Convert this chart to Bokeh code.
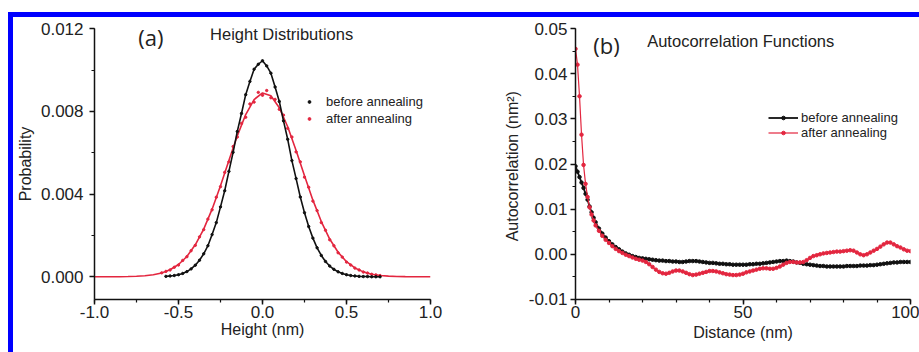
from bokeh.plotting import figure
from bokeh.layouts import row
from bokeh.models import (Label, Legend, LegendItem, SingleIntervalTicker,
                          NumeralTickFormatter)
from bokeh.embed import file_html
from bokeh.resources import INLINE

# ---------------- data: (a) height distributions ----------------
before_x = [-0.575, -0.55, -0.525, -0.5, -0.475, -0.45, -0.425, -0.4, -0.375, -0.35,
            -0.325, -0.3, -0.275, -0.25, -0.225, -0.2, -0.175, -0.15, -0.125, -0.1,
            -0.075, -0.05, -0.025, 0.0, 0.025, 0.05, 0.075, 0.1, 0.125, 0.15,
            0.175, 0.2, 0.225, 0.25, 0.275, 0.3, 0.325, 0.35, 0.375, 0.4,
            0.425, 0.45, 0.475, 0.5, 0.525, 0.55, 0.575, 0.6, 0.625, 0.65, 0.675, 0.7]
before_p = [0.00002, 0.00004, 0.00006, 0.00010, 0.00016, 0.00025, 0.00038, 0.00056, 0.00080, 0.00111,
            0.00150, 0.00204, 0.00262, 0.00338, 0.00416, 0.00510, 0.00602, 0.00703, 0.00790, 0.00881,
            0.00945, 0.01004, 0.01028, 0.01045, 0.01020, 0.00985, 0.00918, 0.00848, 0.00754, 0.00665,
            0.00562, 0.00475, 0.00386, 0.00310, 0.00243, 0.00187, 0.00140, 0.00103, 0.00074, 0.00052,
            0.00036, 0.00024, 0.00016, 0.00010, 0.00006, 0.00004, 0.00002, 0.00001, 0.00001, 0.0, 0.0, 0.0]

after_x = [-0.6, -0.575, -0.55, -0.525, -0.5, -0.475, -0.45, -0.425, -0.4, -0.375,
           -0.35, -0.325, -0.3, -0.275, -0.25, -0.225, -0.2, -0.175, -0.15, -0.125,
           -0.1, -0.075, -0.05, -0.025, 0.0, 0.025, 0.05, 0.075, 0.1, 0.125,
           0.15, 0.175, 0.2, 0.225, 0.25, 0.275, 0.3, 0.325, 0.35, 0.375,
           0.4, 0.425, 0.45, 0.475, 0.5, 0.525, 0.55, 0.575, 0.6, 0.625, 0.65, 0.675, 0.7]
after_p = [0.00019, 0.00026, 0.00033, 0.00046, 0.00057, 0.00079, 0.00097, 0.00126, 0.00152, 0.00193,
           0.00228, 0.00279, 0.00324, 0.00385, 0.00436, 0.00505, 0.00556, 0.00630, 0.00676, 0.00742,
           0.00772, 0.00836, 0.00845, 0.00892, 0.00878, 0.00901, 0.00866, 0.00858, 0.00810, 0.00782,
           0.00718, 0.00676, 0.00604, 0.00556, 0.00482, 0.00433, 0.00366, 0.00320, 0.00262, 0.00225,
           0.00179, 0.00150, 0.00116, 0.00095, 0.00071, 0.00057, 0.00042, 0.00033, 0.00023, 0.00018,
           0.00012, 0.00009, 0.00006]

fit_x = [-1.0, -0.95, -0.9, -0.85, -0.8, -0.75, -0.7, -0.65, -0.6, -0.55,
         -0.5, -0.45, -0.4, -0.35, -0.3, -0.25, -0.2, -0.15, -0.1, -0.05,
         0.0, 0.05, 0.1, 0.15, 0.2, 0.25, 0.3, 0.35, 0.4, 0.45,
         0.5, 0.55, 0.6, 0.65, 0.7, 0.75, 0.8, 0.85, 0.9, 0.95, 1.0]
fit_after = [0.0, 0.0, 0.0, 0.000004, 0.00001, 0.000022, 0.000047, 0.000095, 0.000185, 0.000339,
             0.000592, 0.000982, 0.001545, 0.002307, 0.003271, 0.004401, 0.005622, 0.006817, 0.007846, 0.008573,
             0.008891, 0.008753, 0.00818, 0.007256, 0.006111, 0.004884, 0.003706, 0.00267, 0.001825, 0.001185,
             0.00073, 0.000427, 0.000237, 0.000125, 0.000063, 0.00003, 0.000013, 0.000006, 0.0, 0.0, 0.0]

# ---------------- data: (b) autocorrelation functions ----------------
dist = [0, 0.6, 1.2, 1.8, 2.4, 3.0, 3.6, 4.2, 4.8, 5.4, 6.0,
        7, 8, 9, 10, 11, 12, 13, 14, 15, 16, 17, 18, 19, 20,
        21, 22, 23, 24, 25, 26, 27, 28, 29, 30, 31, 32, 33, 34, 35,
        36, 37, 38, 39, 40, 41, 42, 43, 44, 45, 46, 47, 48, 49, 50,
        51, 52, 53, 54, 55, 56, 57, 58, 59, 60, 61, 62, 63, 64, 65,
        66, 67, 68, 69, 70, 71, 72, 73, 74, 75, 76, 77, 78, 79, 80,
        81, 82, 83, 84, 85, 86, 87, 88, 89, 90, 91, 92, 93, 94, 95,
        96, 97, 98, 99, 100]
acf_before = [0.0195, 0.0183, 0.0171, 0.0159, 0.0147, 0.0134, 0.0121, 0.0106, 0.0093, 0.0081, 0.0071,
              0.0057, 0.0046, 0.0037, 0.0029, 0.0022, 0.0016, 0.0011, 0.0006, 0.0002, -0.0001, -0.0004, -0.0006, -0.0008, -0.0009,
              -0.0010, -0.0011, -0.0012, -0.0013, -0.0014, -0.0014, -0.0015, -0.0015, -0.0016, -0.0016, -0.0017, -0.0017, -0.0016, -0.0015, -0.0015,
              -0.0015, -0.0016, -0.0017, -0.0018, -0.0019, -0.0019, -0.0020, -0.0021, -0.0021, -0.0022, -0.0022, -0.0023, -0.0023, -0.0023, -0.0023,
              -0.0023, -0.0022, -0.0022, -0.0021, -0.0021, -0.0020, -0.0019, -0.0018, -0.0017, -0.0016, -0.0015, -0.0015, -0.0014, -0.0015, -0.0016,
              -0.0018, -0.0019, -0.0021, -0.0022, -0.0023, -0.0024, -0.0025, -0.0026, -0.0026, -0.0027, -0.0027, -0.0027, -0.0027, -0.0027, -0.0027,
              -0.0026, -0.0026, -0.0026, -0.0026, -0.0025, -0.0025, -0.0025, -0.0024, -0.0024, -0.0023, -0.0022, -0.0021, -0.0020, -0.0019, -0.0018,
              -0.0018, -0.0017, -0.0017, -0.0017, -0.0017]
acf_after = [0.0455, 0.0420, 0.0350, 0.0265, 0.0198, 0.0156, 0.0127, 0.0104, 0.0088, 0.0075, 0.0064,
             0.0052, 0.0041, 0.0032, 0.0025, 0.0018, 0.0012, 0.0007, 0.0003, -0.0001, -0.0004, -0.0007, -0.0010, -0.0012, -0.0014,
             -0.0017, -0.0022, -0.0028, -0.0034, -0.0039, -0.0042, -0.0043, -0.0041, -0.0038, -0.0036, -0.0036, -0.0038, -0.0041, -0.0044, -0.0046,
             -0.0045, -0.0043, -0.0041, -0.0039, -0.0037, -0.0037, -0.0038, -0.0040, -0.0042, -0.0044, -0.0045, -0.0046, -0.0046, -0.0045, -0.0043,
             -0.0040, -0.0038, -0.0036, -0.0034, -0.0032, -0.0031, -0.0031, -0.0032, -0.0032, -0.0030, -0.0027, -0.0023, -0.0019, -0.0017, -0.0017,
             -0.0018, -0.0018, -0.0017, -0.0013, -0.0008, -0.0004, -0.0002, 0.0000, 0.0002, 0.0003, 0.0004, 0.0005, 0.0006, 0.0006, 0.0007,
             0.0008, 0.0009, 0.0008, 0.0004, 0.0000, -0.0002, 0.0000, 0.0004, 0.0008, 0.0012, 0.0017, 0.0022, 0.0026, 0.0026, 0.0022,
             0.0018, 0.0015, 0.0011, 0.0008, 0.0007]

labels_a = ["before annealing", "after annealing"]

# ---------------- styling ----------------
BLACK = "#111111"
RED = "#e3263f"
TXT = "#222222"
FONT = "Liberation Sans"


def style_axes(p, y_standoff, y_label_standoff, x_label_standoff):
    p.outline_line_color = None
    p.xgrid.visible = False
    p.ygrid.visible = False
    for ax in (p.xaxis[0], p.yaxis[0]):
        ax.axis_line_width = 1.5
        ax.axis_line_color = "#111111"
        ax.major_tick_line_color = "#111111"
        ax.major_tick_line_width = 1.5
        ax.minor_tick_line_color = "#111111"
        ax.minor_tick_line_width = 1.2
        ax.major_tick_in = 0
        ax.major_tick_out = 5
        ax.minor_tick_in = 0
        ax.minor_tick_out = 3
        ax.major_label_text_font = FONT
        ax.major_label_text_font_size = "17px"
        ax.major_label_text_color = TXT
        ax.axis_label_text_font = FONT
        ax.axis_label_text_font_size = "16px"
        ax.axis_label_text_font_style = "normal"
        ax.axis_label_text_color = TXT
    p.xaxis[0].major_label_standoff = 1
    p.xaxis[0].axis_label_standoff = x_label_standoff
    p.yaxis[0].major_label_standoff = y_standoff
    p.yaxis[0].axis_label_standoff = y_label_standoff


# ---------------- panel (a) ----------------
p1 = figure(width=487, height=335, x_range=(-1.0, 1.0), y_range=(-0.0011, 0.01201),
            output_backend="svg", toolbar_location=None,
            min_border_left=80, min_border_right=70, min_border_top=11, min_border_bottom=50)
style_axes(p1, 6, 4, 0)
p1.xaxis[0].ticker = SingleIntervalTicker(interval=0.5, num_minor_ticks=2)
p1.xaxis[0].formatter = NumeralTickFormatter(format="0.0")
p1.yaxis[0].ticker = SingleIntervalTicker(interval=0.004, num_minor_ticks=2)
p1.yaxis[0].formatter = NumeralTickFormatter(format="0.000")
p1.yaxis[0].axis_label = "Probability"
p1.xaxis[0].axis_label = "Height (nm)"

p1.line(fit_x, fit_after, line_color=RED, line_width=1.6)
r_dots = p1.scatter(after_x, after_p, size=2.4, color=RED)
p1.line(before_x, before_p, line_color=BLACK, line_width=1.6)
b_dots = p1.scatter(before_x, before_p, size=2.4, color=BLACK)

leg1 = Legend(items=[LegendItem(label=labels_a[0], renderers=[b_dots]),
                     LegendItem(label=labels_a[1], renderers=[r_dots])],
              location=(205, 173), padding=0, margin=0, spacing=2,
              glyph_width=20, glyph_height=7, label_height=14, label_standoff=7,
              label_text_font=FONT, label_text_font_size="13px", label_text_color=TXT,
              border_line_alpha=0, background_fill_alpha=0)
p1.add_layout(leg1)

p1.add_layout(Label(x=-0.739, y=0.01162, text="(a)", text_baseline="middle",
                    text_font="Open Sans", text_font_size="22px", text_color=TXT))
p1.add_layout(Label(x=-0.312, y=0.01176, text="Height Distributions", text_baseline="middle",
                    text_font=FONT, text_font_size="16.5px", text_color=TXT))

# ---------------- panel (b) ----------------
p2 = figure(width=419, height=335, x_range=(0, 100), y_range=(-0.01001, 0.05001),
            output_backend="svg", toolbar_location=None,
            min_border_left=74, min_border_right=9, min_border_top=11, min_border_bottom=53)
style_axes(p2, 3, 5, 3)
p2.xaxis[0].ticker = SingleIntervalTicker(interval=50, num_minor_ticks=5)
p2.xaxis[0].formatter = NumeralTickFormatter(format="0")
p2.yaxis[0].ticker = SingleIntervalTicker(interval=0.01, num_minor_ticks=2)
p2.yaxis[0].formatter = NumeralTickFormatter(format="0.00")
p2.yaxis[0].axis_label = "Autocorrelation  (nm\u00b2)"
p2.xaxis[0].axis_label = "Distance (nm)"

lb = p2.line(dist, acf_before, line_color=BLACK, line_width=1.8)
sb = p2.scatter(dist, acf_before, size=3.5, color=BLACK)
lr = p2.line(dist, acf_after, line_color=RED, line_width=1.2)
sr = p2.scatter(dist, acf_after, size=3.5, color=RED)

leg2 = Legend(items=[LegendItem(label=labels_a[0], renderers=[lb, sb]),
                     LegendItem(label=labels_a[1], renderers=[lr, sr])],
              location=(193, 159), padding=0, margin=0, spacing=0,
              glyph_width=30, glyph_height=9, label_height=14, label_standoff=3,
              label_text_font=FONT, label_text_font_size="13px", label_text_color=TXT,
              border_line_alpha=0, background_fill_alpha=0)
p2.add_layout(leg2)

p2.add_layout(Label(x=5.3, y=0.04645, text="(b)", text_baseline="middle",
                    text_font="Open Sans", text_font_size="22px", text_color=TXT))
p2.add_layout(Label(x=21.4, y=0.04734, text="Autocorrelation Functions", text_baseline="middle",
                    text_font=FONT, text_font_size="16.5px", text_color=TXT))

layout = row(p1, p2, styles={"border-top": "5px solid #0000ff",
                             "border-left": "5px solid #0000ff",
                             "margin-top": "12px",
                             "margin-left": "8px"})

open("out.html", "w").write(file_html(layout, INLINE))
